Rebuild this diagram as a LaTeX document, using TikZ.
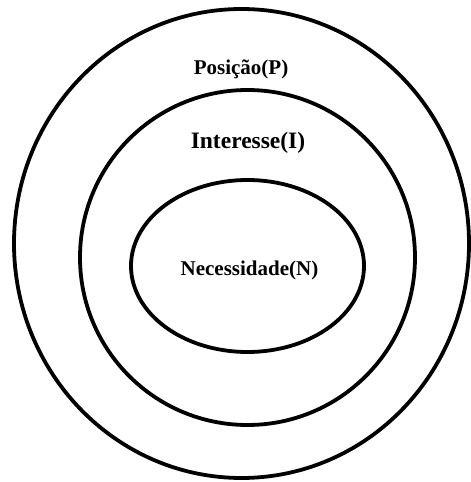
\documentclass[tikz,border=0pt]{standalone}
\usepackage{fontspec}
\setmainfont{Liberation Serif}
\usetikzlibrary{shapes.geometric}
\begin{document}
\begin{tikzpicture}[x=1pt,y=1pt,
  ring/.style={draw=black, line width=3.8pt, ellipse, inner sep=0pt, fill=none},
  lbl/.style={anchor=base, inner sep=0pt, font=\fontsize{21}{21}\selectfont\bfseries}]
\useasboundingbox (0,0) rectangle (471,482);
\node[ring, minimum width=455pt, minimum height=469pt] (outer) at (241.5,238.5) {};
\node[ring, minimum width=335pt, minimum height=335pt] (middle) at (247.5,224.5) {};
\node[ring, minimum width=233pt, minimum height=172pt] (inner) at (247.5,216) {};
\node[lbl] (p) at (241,407) {Posição(P)};
\node[lbl, font=\fontsize{23.5}{23.5}\selectfont\bfseries] (i) at (248,333) {Interesse(I)};
\node[lbl] (n) at (249.5,206) {Necessidade(N)};
\end{tikzpicture}
\end{document}
